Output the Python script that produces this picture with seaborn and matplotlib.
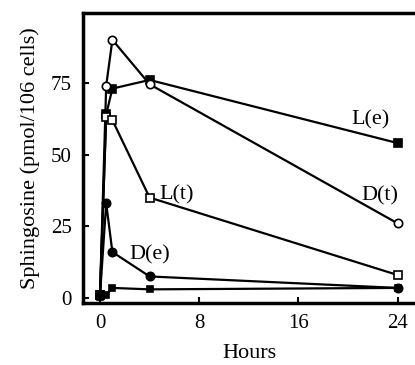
import pandas as pd
import seaborn as sns
import matplotlib.pyplot as plt

# time points (hours)
hours = [0, 0.5, 1, 4, 24]

# sphingosine (pmol / 10^6 cells)
l_e = [1, 64, 73, 76, 54]
d_t = [1, 74, 90, 74.5, 26]
l_t = [1, 63, 62, 35, 8]
d_e = [1, 33, 16, 7.5, 3.5]
ctrl = [0.5, 1, 3.5, 3, 3.5]

x_ticks = [0, 8, 16, 24]
y_ticks = [0, 25, 50, 75]

series = {
    "L(e)": (l_e, "s", "black", 6),
    "D(t)": (d_t, "o", "white", 6),
    "L(t)": (l_t, "s", "white", 6),
    "D(e)": (d_e, "o", "black", 6),
    "ctrl": (ctrl, "s", "black", 4),
}

sns.set_style("ticks")
plt.rcParams["font.family"] = ["Liberation Serif", "DejaVu Serif"]
plt.rcParams["text.color"] = "black"
plt.rcParams["axes.labelcolor"] = "black"
plt.rcParams["xtick.color"] = "black"
plt.rcParams["ytick.color"] = "black"

fig = plt.figure(figsize=(4.15, 3.65), dpi=100)
ax = fig.add_axes([0.2, 0.17, 0.8, 0.794])

for name, (vals, mk, fc, ms) in series.items():
    df = pd.DataFrame({"hours": hours, "value": vals})
    sns.lineplot(data=df, x="hours", y="value", ax=ax, color="black",
                 linewidth=1.6, marker=mk, markersize=ms,
                 markerfacecolor=fc, markeredgecolor="black",
                 markeredgewidth=1.2)

ax.text(20.3, 62, "L(e)", fontsize=16, va="center")
ax.text(21.1, 35.5, "D(t)", fontsize=16, va="center")
ax.text(4.8, 36, "L(t)", fontsize=16, va="center")
ax.text(2.4, 15, "D(e)", fontsize=16, va="center")

ax.set_xlim(-1.37, 25.4)
ax.set_ylim(-1.74, 99.3)
ax.set_xticks(x_ticks)
ax.set_yticks(y_ticks)
ax.tick_params(direction="in", length=4, width=1.5, labelsize=15, pad=8)
ax.set_xlabel("Hours", fontsize=16, labelpad=8)
ax.set_ylabel("Sphingosine (pmol/106 cells)", fontsize=16, labelpad=8)

for side in ["left", "top", "bottom"]:
    ax.spines[side].set_linewidth(2.5)
    ax.spines[side].set_color("black")
    ax.spines[side].set_visible(True)
ax.spines["right"].set_visible(False)

plt.savefig("out.png", dpi=100)
